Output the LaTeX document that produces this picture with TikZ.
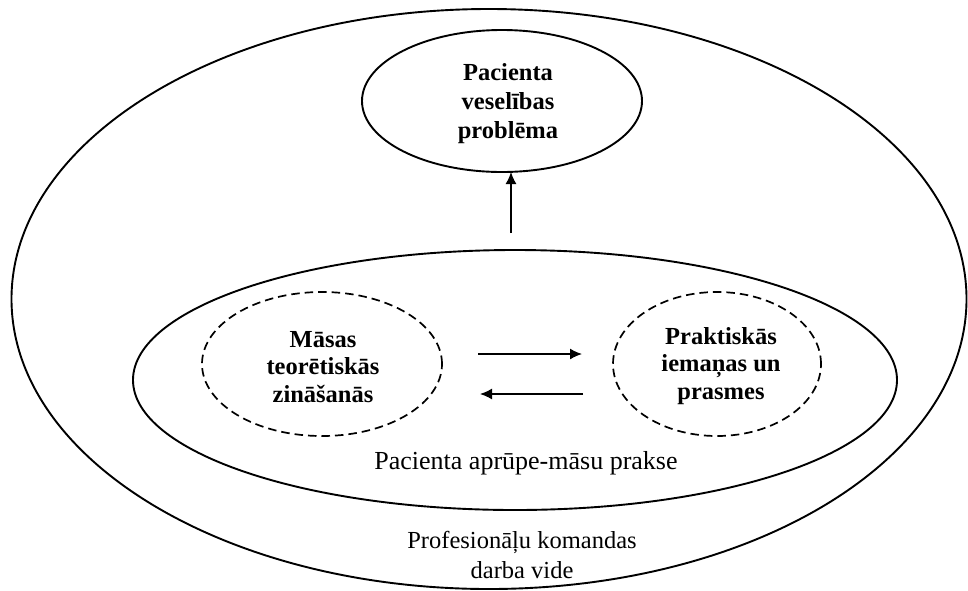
\documentclass[tikz,border=0pt]{standalone}
\usepackage{fontspec}
\setmainfont{Liberation Serif}
\usetikzlibrary{shapes.geometric,arrows.meta}
\begin{document}
\begin{tikzpicture}[x=1pt,y=-1pt,
  ell/.style={ellipse,draw,line width=1.9pt,inner sep=0pt,outer sep=0pt},
  dell/.style={ellipse,draw,line width=1.7pt,dash pattern=on 8.5pt off 5pt,inner sep=0pt,outer sep=0pt},
  bt/.style={font=\bfseries\fontsize{24.5}{27.5}\selectfont,align=center,inner sep=0pt},
  rt/.style={font=\fontsize{25}{30}\selectfont,align=center,inner sep=0pt},
  arr/.style={line width=1.4pt,-{Latex[length=12pt,width=11pt]}}]
\useasboundingbox (0,0) rectangle (968,590);
\node[ell,minimum width=955pt,minimum height=580pt] (outer) at (489,299) {};
\node[ell,minimum width=280pt,minimum height=142pt] (top) at (502,101) {};
\node[bt,font=\bfseries\fontsize{24.5}{29}\selectfont] (topt) at (508,104) {Pacienta\\veselības\\problēma};
\node[ell,minimum width=764pt,minimum height=260pt] (mid) at (515,380) {};
\node[dell,minimum width=240pt,minimum height=144pt] (L) at (322,364) {};
\node[dell,minimum width=208pt,minimum height=144pt] (R) at (717,364) {};
\node[bt] (Lt) at (323,367) {Māsas\\teorētiskās\\zināšanās};
\node[bt] (Rt) at (721,366) {Praktiskās\\iemaņas un\\prasmes};
\node[rt,font=\fontsize{26}{30}\selectfont] (midt) at (526,463) {Pacienta aprūpe-māsu prakse};
\node[rt,font=\fontsize{24.5}{30}\selectfont] (outt) at (522,555) {Profesionāļu komandas\\darba vide};
\draw[arr] ([xshift=36pt,yshift=10pt]L.east) -- ([xshift=-31pt,yshift=10pt]R.west);
\draw[arr] ([xshift=-30pt,yshift=-30pt]R.west) -- ([xshift=38pt,yshift=-30pt]L.east);
\draw[arr] ([xshift=-4pt,yshift=17pt]mid.north) -- ([xshift=9pt]top.south);
\end{tikzpicture}
\end{document}
